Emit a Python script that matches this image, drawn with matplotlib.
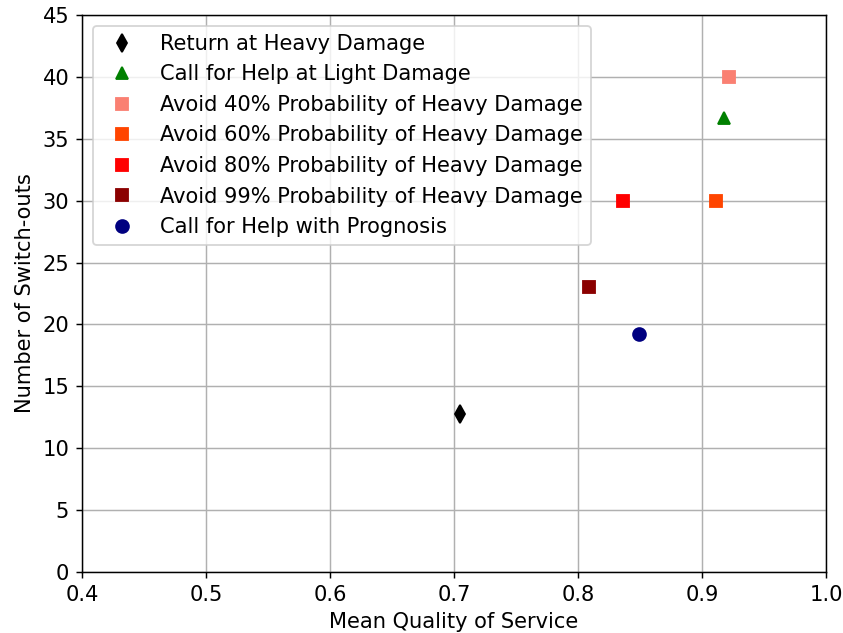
import numpy as np
import matplotlib
matplotlib.use("Agg")
import matplotlib.pyplot as plt

plt.rcParams['font.size'] = 11.5

# mean QoS vs number of switch-outs, one point per policy
labels = ['Return at Heavy Damage',
          'Call for Help at Light Damage',
          'Avoid 40% Probability of Heavy Damage',
          'Avoid 60% Probability of Heavy Damage',
          'Avoid 80% Probability of Heavy Damage',
          'Avoid 99% Probability of Heavy Damage',
          'Call for Help with Prognosis']
qos = [0.705, 0.918, 0.922, 0.911, 0.836, 0.809, 0.849]
switch_outs = [12.8, 36.7, 40.0, 30.0, 30.0, 23.0, 19.2]
markers = ['d', '^', 's', 's', 's', 's', 'o']
colors = ['black', 'green', 'salmon', 'orangered', 'red', 'darkred', 'navy']

dpi = 843 / 6.4
fig = plt.figure(figsize=(6.4, 633 / dpi), dpi=dpi)
fig.subplots_adjust(left=82/843, right=826/843, top=1-15/633, bottom=1-572/633)
ax = fig.add_subplot(111)

for lab, x, y, m, c in zip(labels, qos, switch_outs, markers, colors):
    ax.plot(x, y, linestyle='none', marker=m, color=c, markersize=7, label=lab)

ax.set_xlim(0.4, 1.0)
ax.set_ylim(0, 45)
ax.set_xlabel('Mean Quality of Service')
ax.set_ylabel('Number of Switch-outs')
ax.grid(True)
ax.set_axisbelow(True)
ax.legend(loc='upper left')

fig.savefig('out.png', dpi=dpi)
